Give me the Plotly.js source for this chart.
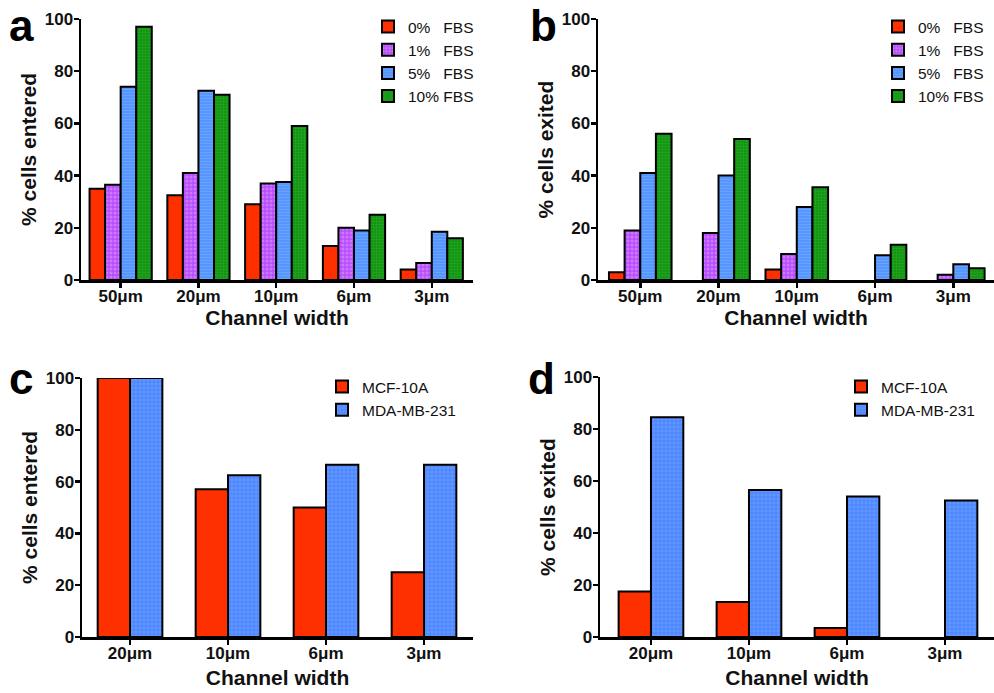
<!DOCTYPE html>
<html>
<head>
<meta charset="utf-8">
<script src="https://cdn.plot.ly/plotly-3.0.1.min.js"></script>
<style>html,body{margin:0;padding:0;background:#fff;}#chart{width:994px;height:693px;}</style>
</head>
<body>
<div id="chart"></div>
<script>
// ---- data ----
var widthsAB = ["50μm", "20μm", "10μm", "6μm", "3μm"];
var fbsNames = ["0%\u00a0\u00a0\u00a0FBS", "1%\u00a0\u00a0\u00a0FBS", "5%\u00a0\u00a0\u00a0FBS", "10%\u00a0FBS"];
var enteredFBS0 = [35, 32.5, 29, 13, 4];
var enteredFBS1 = [36.5, 41, 37, 20, 6.5];
var enteredFBS5 = [74, 72.5, 37.5, 19, 18.5];
var enteredFBS10 = [97, 71, 59, 25, 16];
var exitedFBS0 = [3, 0, 4, 0, 0];
var exitedFBS1 = [19, 18, 10, 0, 2];
var exitedFBS5 = [41, 40, 28, 9.5, 6];
var exitedFBS10 = [56, 54, 35.5, 13.5, 4.5];

var widthsCD = ["20μm", "10μm", "6μm", "3μm"];
var cellNames = ["MCF-10A", "MDA-MB-231"];
var enteredMCF = [100, 57, 50, 25];
var enteredMDA = [100, 62.5, 66.5, 66.5];
var exitedMCF = [17.5, 13.5, 3.5, 0];
var exitedMDA = [84.5, 56.5, 54, 52.5];

// ---- styles ----
var FONT = "Arial, 'Liberation Sans', sans-serif";
var fbsStyles = [
  {color: "#ff3000", pattern: {shape: ""}},
  {color: "#b84cff", pattern: {shape: ".", fgcolor: "#e2a8ff", size: 4, solidity: 0.45, fillmode: "overlay"}},
  {color: "#5596ff", pattern: {shape: "-", fgcolor: "#7fb0ff", size: 3, solidity: 0.35, fillmode: "overlay"}},
  {color: "#129612", pattern: {shape: "+", fgcolor: "#3cb83c", size: 3, solidity: 0.3, fillmode: "overlay"}}
];
var cellStyles = [
  {color: "#ff3000", pattern: {shape: ""}},
  {color: "#4d88ff", pattern: {shape: ".", fgcolor: "#7aa6ff", size: 4, solidity: 0.45, fillmode: "overlay"}}
];
var fbsOffsets = [-0.4, -0.2, 0, 0.2];
var cellOffsets = [-0.33, 0];

var traces = [];
function addTraces(cats, seriesList, names, styles, offsets, w, xa, ya, legendId) {
  seriesList.forEach(function (vals, i) {
    traces.push({
      type: "bar", x: cats, y: vals, name: names[i],
      xaxis: xa, yaxis: ya, legend: legendId,
      width: w, offset: offsets[i],
      marker: {
        color: styles[i].color, pattern: styles[i].pattern,
        line: {color: "#000", width: vals.map(function (v) { return v > 0 ? 2 : 0; })}
      },
      hoverinfo: "x+y+name"
    });
  });
}
addTraces(widthsAB, [enteredFBS0, enteredFBS1, enteredFBS5, enteredFBS10], fbsNames, fbsStyles, fbsOffsets, 0.2, "x", "y", "legend");
addTraces(widthsAB, [exitedFBS0, exitedFBS1, exitedFBS5, exitedFBS10], fbsNames, fbsStyles, fbsOffsets, 0.2, "x2", "y2", "legend2");
addTraces(widthsCD, [enteredMCF, enteredMDA], cellNames, cellStyles, cellOffsets, 0.33, "x3", "y3", "legend3");
addTraces(widthsCD, [exitedMCF, exitedMDA], cellNames, cellStyles, cellOffsets, 0.33, "x4", "y4", "legend4");

var W = 994, H = 693;
function dx(a, b) { return [a / W, Math.min(b / W, 1)]; }
function dy(top, bottom) { return [1 - bottom / H, 1 - top / H]; }

function xAxis(dom, anchor, range, standoff) {
  return {
    domain: dom, anchor: anchor, type: "category", range: range,
    showline: true, linecolor: "#000", linewidth: 2.5,
    ticks: "outside", ticklen: 5, tickwidth: 2.5, tickcolor: "#000",
    ticklabelstandoff: -6,
    showgrid: false, zeroline: false, fixedrange: true,
    tickfont: {family: FONT, size: 17, color: "#111", weight: "bold"},
    title: {text: "Channel width", font: {family: FONT, size: 21, color: "#111", weight: "bold"}, standoff: standoff}
  };
}
function yAxis(dom, anchor, title) {
  return {
    domain: dom, anchor: anchor, range: [0, 100],
    tickvals: [0, 20, 40, 60, 80, 100],
    showline: true, linecolor: "#000", linewidth: 2.5,
    ticks: "outside", ticklen: 5, tickwidth: 2.5, tickcolor: "#000",
    ticklabelstandoff: -3,
    showgrid: false, zeroline: false, fixedrange: true,
    tickfont: {family: FONT, size: 17, color: "#111", weight: "bold"},
    title: {text: title, font: {family: FONT, size: 21, color: "#111", weight: "bold"}, standoff: 3}
  };
}
function legendAt(xpx, ypx) {
  return {
    x: xpx / W, y: 1 - ypx / H, xanchor: "left", yanchor: "top",
    xref: "paper", yref: "paper",
    bgcolor: "rgba(0,0,0,0)", borderwidth: 0,
    font: {family: FONT, size: 15.5, color: "#111"},
    itemwidth: 30, tracegroupgap: 0
  };
}
function panelLabel(txt, xpx, ypx) {
  return {
    text: "<b>" + txt + "</b>", xref: "paper", yref: "paper",
    x: xpx / W, y: 1 - ypx / H, xanchor: "left", yanchor: "middle",
    showarrow: false, font: {family: FONT, size: 44, color: "#000"}
  };
}

var layout = {
  width: W, height: H,
  margin: {l: 0, r: 0, t: 0, b: 0, autoexpand: false},
  paper_bgcolor: "#fff", plot_bgcolor: "#fff",
  barmode: "overlay",
  showlegend: true,
  xaxis: xAxis(dx(81, 473), "y", [-0.51, 4.53], 6),
  yaxis: yAxis(dy(19, 280), "x", "% cells entered"),
  xaxis2: xAxis(dx(598, 994), "y2", [-0.54, 4.52], 6),
  yaxis2: yAxis(dy(19, 280), "x2", "% cells exited"),
  xaxis3: xAxis(dx(82, 473), "y3", [-0.49, 3.5], 9),
  yaxis3: yAxis(dy(378, 637), "x3", "% cells entered"),
  xaxis4: xAxis(dx(600, 994), "y4", [-0.52, 3.5], 9),
  yaxis4: yAxis(dy(377, 637), "x4", "% cells exited"),
  legend: legendAt(368, 10),
  legend2: legendAt(878, 10),
  legend3: legendAt(322, 370),
  legend4: legendAt(841, 370),
  annotations: [
    panelLabel("a", 7, 26),
    panelLabel("b", 528, 26),
    panelLabel("c", 7, 378),
    panelLabel("d", 526, 378)
  ]
};

Plotly.newPlot("chart", traces, layout, {staticPlot: true, displayModeBar: false});
</script>
</body>
</html>
